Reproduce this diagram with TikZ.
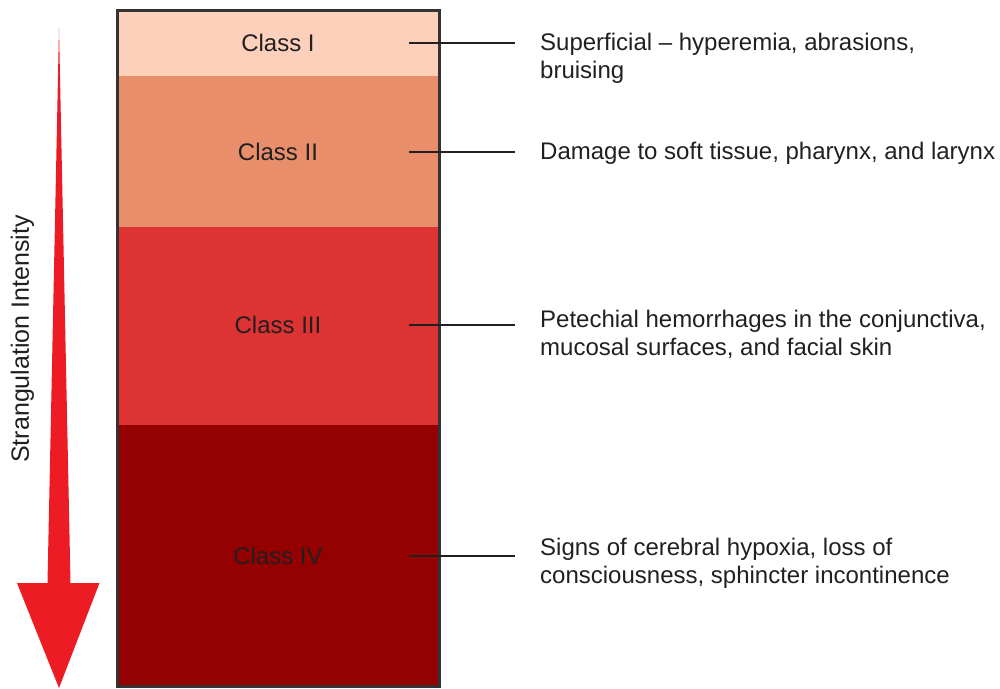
\documentclass[tikz,border=0pt]{standalone}
\usepackage{fontspec}
\setmainfont{Liberation Sans}
\definecolor{cI}{HTML}{FDD0BC}
\definecolor{cII}{HTML}{E88E6B}
\definecolor{cIII}{HTML}{DD3333}
\definecolor{cIV}{HTML}{950000}
\definecolor{ink}{HTML}{231F20}
\definecolor{frame}{HTML}{333333}
\definecolor{arrowred}{HTML}{ED1C24}
\tikzset{
  band/.style={draw=none, minimum width=322pt, inner sep=0pt, outer sep=0pt},
  classlabel/.style={anchor=base, text=ink, font=\fontsize{24}{28}\selectfont, inner sep=0pt},
  desc/.style={anchor=base west, text=ink, align=left, font=\fontsize{24}{27.5}\selectfont, inner sep=0pt},
  conn/.style={draw=ink, line width=2pt},
}
\begin{document}
\begin{tikzpicture}[x=1pt,y=-1pt]
\useasboundingbox (0,0) rectangle (1000,688);
% bands
\node[band, fill=cI,   minimum height=66pt]  (b1) at (278,43) {};
\node[band, fill=cII,  minimum height=151pt] (b2) at (278,151.5) {};
\node[band, fill=cIII, minimum height=198pt] (b3) at (278,326) {};
\node[band, fill=cIV,  minimum height=261pt] (b4) at (278,555.5) {};
\draw[frame, line width=3pt] (b1.north west) rectangle (b4.south east);
% class labels
\node[classlabel] (k1) at (278,51.5) {Class I};
\node[classlabel] (k2) at (278,160.5) {Class II};
\node[classlabel] (k3) at (278,333.5) {Class III};
\node[classlabel] (k4) at (278,564.5) {Class IV};
% connectors
\coordinate (a1) at (409,43);  \coordinate (e1) at (515,43);
\coordinate (a2) at (409,152); \coordinate (e2) at (515,152);
\coordinate (a3) at (409,325); \coordinate (e3) at (515,325);
\coordinate (a4) at (409,556); \coordinate (e4) at (515,556);
\draw[conn] (a1) -- (e1);
\draw[conn] (a2) -- (e2);
\draw[conn] (a3) -- (e3);
\draw[conn] (a4) -- (e4);
% descriptions (base anchor = baseline of last line)
\node[desc] (d1) at (540,78) {Superficial – hyperemia, abrasions,\\bruising};
\node[desc] (d2) at (540,159.5) {Damage to soft tissue, pharynx, and larynx};
\node[desc] (d3) at (540,355) {Petechial hemorrhages in the conjunctiva,\\mucosal surfaces, and facial skin};
\node[desc] (d4) at (540,583) {Signs of cerebral hypoxia, loss of\\consciousness, sphincter incontinence};
% intensity arrow
\fill[arrowred] (59,28) -- (70.5,583) -- (99.5,583) -- (59,688) -- (17,583) -- (47.5,583) -- cycle;
\node[rotate=90, text=ink, font=\fontsize{25}{28}\selectfont, inner sep=0pt] (si) at (22.5,339) {Strangulation Intensity};
\end{tikzpicture}
\end{document}
